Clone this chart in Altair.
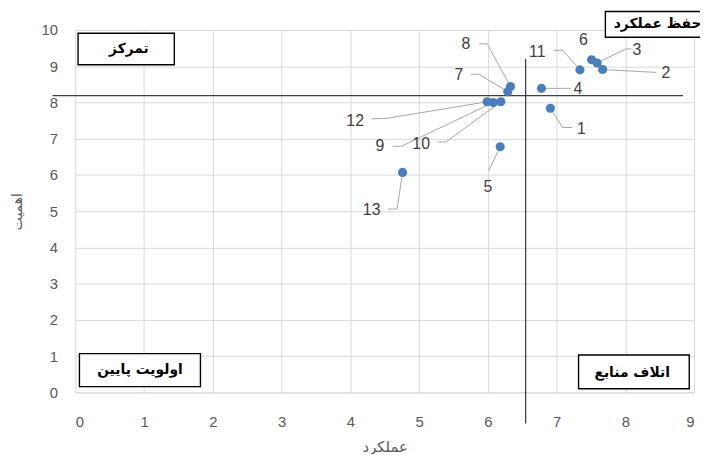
import altair as alt
import pandas as pd

# ---- data ----
ids = ["1", "2", "3", "4", "5", "6", "7", "8", "9", "10", "11", "12", "13"]
performance = [6.91, 7.67, 7.59, 6.78, 6.18, 7.51, 6.29, 6.33, 6.08, 6.19, 7.34, 5.99, 4.76]
importance = [7.84, 8.91, 9.09, 8.39, 6.78, 9.18, 8.30, 8.44, 8.00, 8.02, 8.90, 8.02, 6.07]

x_ticks = [0, 1, 2, 3, 4, 5, 6, 7, 8, 9]
y_ticks = [0, 1, 2, 3, 4, 5, 6, 7, 8, 9, 10]

mean_performance = 6.55
mean_importance = 8.19

x_title = "عملکرد"
y_title = "اهمیت"

# data-label anchors (data units)
label_x = [7.36, 8.59, 8.17, 7.31, 6.00, 7.39, 5.58, 5.68, 4.43, 5.03, 6.72, 4.07, 4.31]
label_y = [7.27, 8.82, 9.45, 8.37, 5.67, 9.71, 8.75, 9.62, 6.79, 6.86, 9.39, 7.50, 5.02]

# leader-line bends from label side towards the point (data units)
leader_bends = {
    "1": [(7.23, 7.31), (7.09, 7.31)],
    "2": [(8.45, 8.83)],
    "3": [(8.09, 9.48), (8.01, 9.48)],
    "4": [(7.21, 8.39)],
    "5": [(6.01, 6.11)],
    "7": [(5.75, 8.78), (5.87, 8.78)],
    "8": [(5.87, 9.62), (5.99, 9.62)],
    "9": [(4.62, 6.79), (4.74, 6.79)],
    "10": [(5.27, 6.91), (5.39, 6.91)],
    "11": [(6.96, 9.44), (7.09, 9.44)],
    "12": [(4.31, 7.55), (4.52, 7.56)],
    "13": [(4.55, 5.06), (4.68, 5.06)],
}

# quadrant boxes
box_text = ["تمرکز", "حفظ عملکرد", "اولویت پایین", "اتلاف منابع"]
box_x1 = [0.04, 7.71, 0.06, 7.32]
box_x2 = [1.44, 9.30, 1.82, 8.93]
box_y1 = [9.04, 9.80, 0.16, 0.10]
box_y2 = [9.91, 10.51, 1.07, 1.03]
box_tx = [0.78, 8.47, 0.94, 8.10]
box_ty = [9.48, 10.17, 0.61, 0.52]

# ---- tables ----
pts = pd.DataFrame({"id": ids, "x": performance, "y": importance,
                    "lx": label_x, "ly": label_y})

rows = []
for i, px, py in zip(ids, performance, importance):
    if i not in leader_bends:
        continue
    seq = leader_bends[i] + [(px, py)]
    for k, (a, b) in enumerate(seq):
        rows.append({"id": i, "o": k, "x": a, "y": b})
leaders = pd.DataFrame(rows)

boxes = pd.DataFrame({"t": box_text, "x1": box_x1, "x2": box_x2,
                      "y1": box_y1, "y2": box_y2, "tx": box_tx, "ty": box_ty})

hline = pd.DataFrame({"x1": [-0.33], "x2": [8.84], "y": [mean_importance]})
vline = pd.DataFrame({"x": [mean_performance], "y1": [-0.86], "y2": [9.20]})

xs = alt.Scale(domain=[0, 9], nice=False, zero=False)
ys = alt.Scale(domain=[0, 10], nice=False, zero=False)

base_font = "Liberation Sans"
ar_font = "DejaVu Sans"

xaxis = alt.Axis(values=x_ticks, format="d", grid=True, gridColor="#d9d9d9", ticks=False,
                 domain=True, domainColor="#d9d9d9", labelColor="#595959",
                 labelFont=base_font, labelFontSize=15, labelPadding=22,
                 labelOverlap=False,
                 title=x_title, titleFont=ar_font, titleFontSize=15,
                 titleFontWeight="normal", titleColor="#595959", titlePadding=11)
yaxis = alt.Axis(values=y_ticks, format="d", grid=True, gridColor="#d9d9d9", ticks=False,
                 domain=False, labelColor="#595959", labelFont=base_font,
                 labelFontSize=15, labelPadding=18, labelOverlap=False,
                 title=y_title, titleFont=ar_font, titleFontSize=14,
                 titleFontWeight="normal", titleColor="#595959", titlePadding=17)


def X(field):
    return alt.X(field, type="quantitative", scale=xs, axis=xaxis)


def Y(field):
    return alt.Y(field, type="quantitative", scale=ys, axis=yaxis)


lead = alt.Chart(leaders).mark_line(color="#a6a6a6", strokeWidth=1, clip=False).encode(
    x=X("x"), y=Y("y"), detail="id:N", order="o:Q",
)

hrule = alt.Chart(hline).mark_rule(color="#404040", strokeWidth=1.3, clip=False).encode(
    x=X("x1"), x2="x2:Q", y=Y("y"))
vrule = alt.Chart(vline).mark_rule(color="#404040", strokeWidth=1.3, clip=False).encode(
    x=X("x"), y=Y("y1"), y2="y2:Q")

dots = alt.Chart(pts).mark_circle(size=85, color="#4a7ebb", opacity=1).encode(
    x=X("x"), y=Y("y"))

labels = alt.Chart(pts).mark_text(font=base_font, fontSize=16, color="#404040",
                                  align="center", baseline="middle").encode(
    x=X("lx"), y=Y("ly"), text="id:N")

rects = alt.Chart(boxes).mark_rect(fill="white", stroke="black", strokeWidth=1.4,
                                   clip=False).encode(
    x=X("x1"), x2="x2:Q", y=Y("y1"), y2="y2:Q")

btext = alt.Chart(boxes).mark_text(font=ar_font, fontSize=14, fontWeight="bold",
                                   color="black", align="center", baseline="middle").encode(
    x=X("tx"), y=Y("ty"), text="t:N")

chart = alt.layer(lead, hrule, vrule, dots, labels, rects, btext).properties(
    width=625, height=366,
    autosize=alt.AutoSizeParams(type="none"),
    padding={"left": 68, "top": 20, "right": 6, "bottom": 60},
).configure_view(stroke=None)

chart.save("out.html", embed_options={"renderer": "svg", "actions": False})
